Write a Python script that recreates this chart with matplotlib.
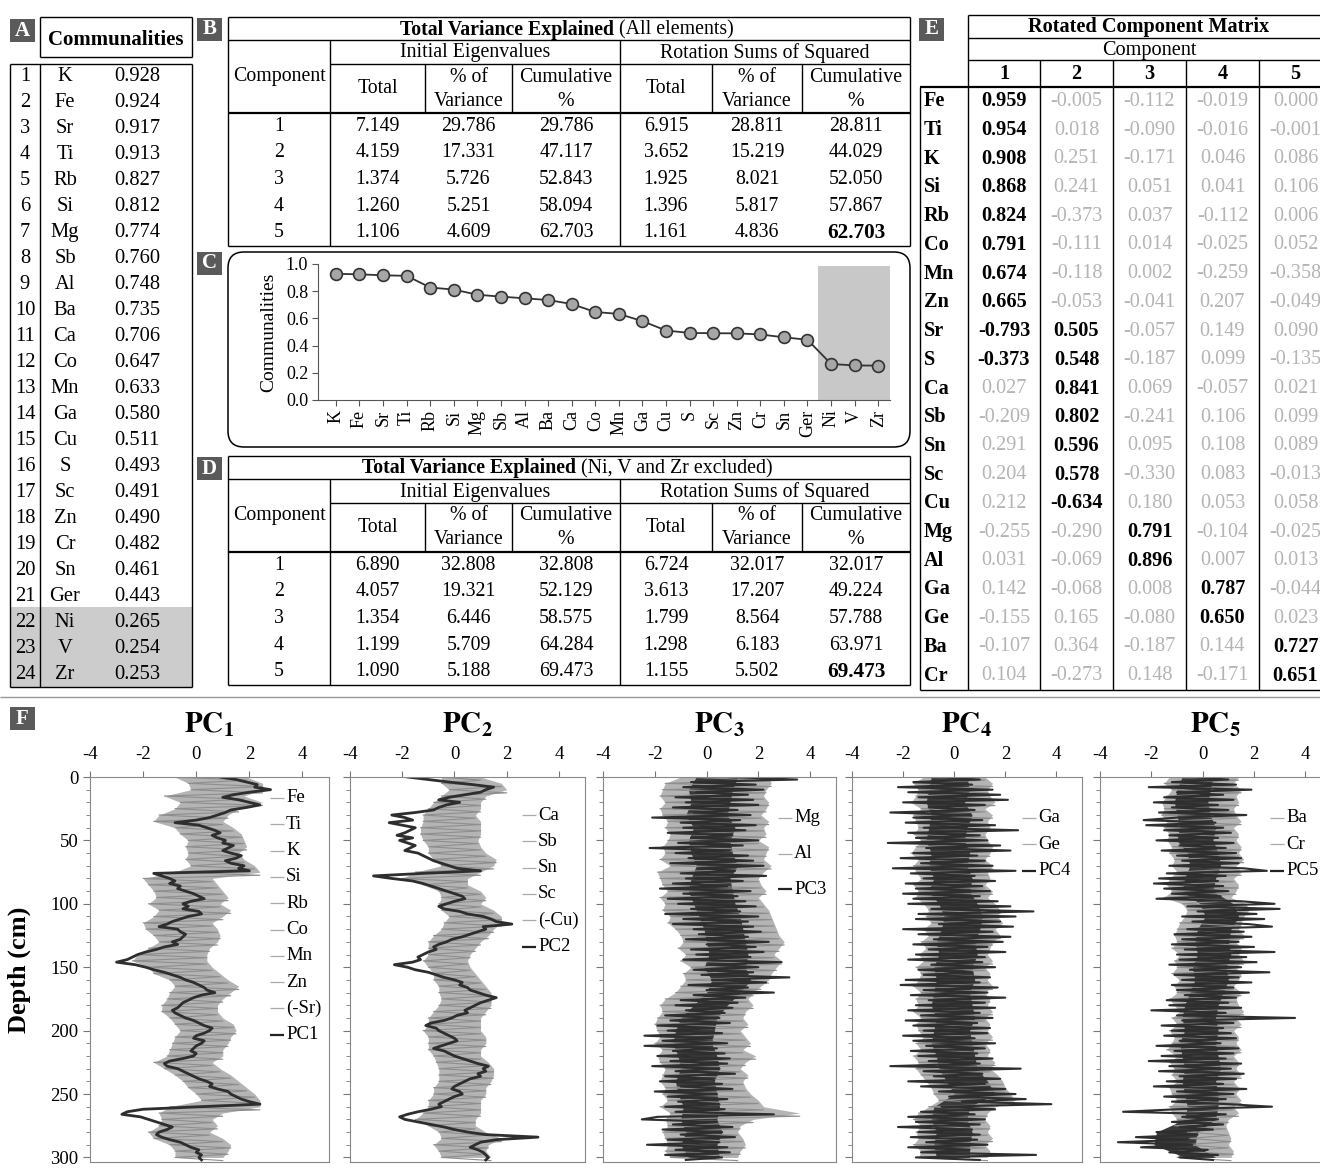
import numpy as np
import matplotlib
matplotlib.use("Agg")
import matplotlib.pyplot as plt
from matplotlib.patches import Rectangle, FancyBboxPatch

plt.rcParams['font.family'] = ['Liberation Serif', 'DejaVu Serif']
plt.rcParams['mathtext.fontset'] = 'stix'
plt.rcParams['axes.unicode_minus'] = False

W, H = 1320, 1172

# ---------------- data ----------------
comm_elements = ['K', 'Fe', 'Sr', 'Ti', 'Rb', 'Si', 'Mg', 'Sb', 'Al', 'Ba', 'Ca', 'Co',
                 'Mn', 'Ga', 'Cu', 'S', 'Sc', 'Zn', 'Cr', 'Sn', 'Ger', 'Ni', 'V', 'Zr']
comm_values = [0.928, 0.924, 0.917, 0.913, 0.827, 0.812, 0.774, 0.760, 0.748, 0.735, 0.706, 0.647,
               0.633, 0.580, 0.511, 0.493, 0.491, 0.490, 0.482, 0.461, 0.443, 0.265, 0.254, 0.253]

components = [1, 2, 3, 4, 5]
b_init_total = ['7.149', '4.159', '1.374', '1.260', '1.106']
b_init_pct = ['29.786', '17.331', '5.726', '5.251', '4.609']
b_init_cum = ['29.786', '47.117', '52.843', '58.094', '62.703']
b_rot_total = ['6.915', '3.652', '1.925', '1.396', '1.161']
b_rot_pct = ['28.811', '15.219', '8.021', '5.817', '4.836']
b_rot_cum = ['28.811', '44.029', '52.050', '57.867', '62.703']

d_init_total = ['6.890', '4.057', '1.354', '1.199', '1.090']
d_init_pct = ['32.808', '19.321', '6.446', '5.709', '5.188']
d_init_cum = ['32.808', '52.129', '58.575', '64.284', '69.473']
d_rot_total = ['6.724', '3.613', '1.799', '1.298', '1.155']
d_rot_pct = ['32.017', '17.207', '8.564', '6.183', '5.502']
d_rot_cum = ['32.017', '49.224', '57.788', '63.971', '69.473']

rot_elements = ['Fe', 'Ti', 'K', 'Si', 'Rb', 'Co', 'Mn', 'Zn', 'Sr', 'S', 'Ca', 'Sb', 'Sn',
                'Sc', 'Cu', 'Mg', 'Al', 'Ga', 'Ge', 'Ba', 'Cr']
rot_matrix = [
    [0.959, -0.005, -0.112, -0.019, 0.000],
    [0.954, 0.018, -0.090, -0.016, -0.001],
    [0.908, 0.251, -0.171, 0.046, 0.086],
    [0.868, 0.241, 0.051, 0.041, 0.106],
    [0.824, -0.373, 0.037, -0.112, 0.006],
    [0.791, -0.111, 0.014, -0.025, 0.052],
    [0.674, -0.118, 0.002, -0.259, -0.358],
    [0.665, -0.053, -0.041, 0.207, -0.049],
    [-0.793, 0.505, -0.057, 0.149, 0.090],
    [-0.373, 0.548, -0.187, 0.099, -0.135],
    [0.027, 0.841, 0.069, -0.057, 0.021],
    [-0.209, 0.802, -0.241, 0.106, 0.099],
    [0.291, 0.596, 0.095, 0.108, 0.089],
    [0.204, 0.578, -0.330, 0.083, -0.013],
    [0.212, -0.634, 0.180, 0.053, 0.058],
    [-0.255, -0.290, 0.791, -0.104, -0.025],
    [0.031, -0.069, 0.896, 0.007, 0.013],
    [0.142, -0.068, 0.008, 0.787, -0.044],
    [-0.155, 0.165, -0.080, 0.650, 0.023],
    [-0.107, 0.364, -0.187, 0.144, 0.727],
    [0.104, -0.273, 0.148, -0.171, 0.651],
]
# component each element is assigned to (bold cells)
rot_bold = [[0], [0], [0], [0], [0], [0], [0], [0], [0, 1], [0, 1], [1], [1], [1], [1], [1],
            [2], [2], [3], [3], [4], [4]]

# depth profiles: PC scores every 2 cm, element band (low/high) every 5 cm,
# dense core of the noisy PC scores every 10 cm
depth_pc = np.arange(0, 304, 2)
depth_band = np.arange(0, 305, 5)
depth_core = np.arange(0, 301, 10)

pc1 = [0.9, 1.5, 1.9, 2.3, 2.2, 2.8, 2.0, 1.4, 1.0, 1.6,
       2.0, 2.4, 1.9, 1.3, 1.1, 0.8, 0.5, 0.0, -0.8, 0.1,
       0.4, 0.7, 0.9, 0.6, 0.8, 1.1, 1.0, 1.4, 1.2, 1.0,
       1.3, 1.7, 1.5, 1.1, 1.3, 1.8, 1.6, 2.0, -1.6, -1.3,
       -1.0, -0.8, -1.0, -0.6, -0.7, -0.4, -0.1, 0.1, 0.3, -0.2,
       -0.5, -0.3, -0.5, 0.1, 0.2, -0.3, -0.6, -0.9, -1.1, -1.4,
       -0.7, -0.6, -0.4, -0.5, -0.6, -0.9, -0.7, -1.2, -1.5, -1.9,
       -2.2, -2.4, -2.6, -3.0, -2.3, -1.9, -1.6, -1.2, -0.9, -0.6,
       -0.4, -0.1, 0.1, 0.3, 0.4, 0.7, 0.2, -0.1, -0.3, -0.5,
       -0.6, -0.7, -0.9, -0.8, -0.6, -0.4, -0.1, 0.1, 0.3, 0.6,
       0.5, 0.3, 0.0, -0.1, 0.3, 0.2, 0.0, -0.1, -0.2, 0.0,
       -0.1, -0.5, -1.0, -1.2, -1.1, -0.7, -0.5, -0.3, -0.1, 0.1,
       0.4, 0.6, 0.5, 0.8, 1.2, 1.3, 1.5, 1.7, 2.0, 2.4,
       0.2, -2.0, -2.6, -2.8, -2.1, -1.8, -1.5, -1.2, -0.9, -1.1,
       -1.4, -1.5, -1.3, -1.0, -0.6, -0.4, -0.2, 0.1, 0.0, 0.2,
       0.1, 0.2]
pc1_lo = [-0.8, -0.3, -0.2, -1.2, -0.6, -0.8, -1.4, -1.6, -0.8, -0.6, -0.3, -0.4, -0.3, -0.4, -0.2,
          -0.8, -2.0, -1.8, -1.6, -1.5, -1.8, -1.4, -1.6, -2.0, -1.9, -1.6, -1.4, -1.8, -2.2, -2.4,
          -1.8, -1.6, -1.0, -0.8, -1.0, -1.1, -1.3, -1.3, -1.0, -0.8, -0.6, -0.8, -0.9, -1.0, -1.1,
          -1.6, -1.2, -0.8, -0.5, -0.3, 0.0, 0.2, -1.0, -1.4, -1.3, -1.4, -1.8, -1.6, -1.0, -0.8, -0.8]
pc1_hi = [1.9, 2.5, 2.5, 1.8, 2.5, 1.6, 1.2, 1.0, 1.4, 1.7, 1.8, 1.9, 1.6, 1.8, 2.2,
          2.4, 0.6, 0.8, 1.0, 1.2, 0.9, 1.3, 1.0, 0.6, 0.8, 0.9, 0.8, 0.5, 0.4, 0.4,
          0.6, 0.9, 1.2, 1.6, 1.3, 1.0, 0.8, 0.8, 1.0, 1.4, 1.5, 1.3, 1.2, 1.0, 1.0,
          0.6, 0.9, 1.3, 1.6, 1.9, 2.2, 2.4, 2.4, 1.0, 0.6, 0.8, 0.5, 1.0, 1.3, 1.2, 1.0]

pc2 = [-1.8, -1.0, -0.2, 0.7, 1.5, 1.2, 1.0, 0.4, -0.2, -0.6,
       0.2, -0.3, -0.6, -0.8, -1.5, -2.4, -1.9, -1.6, -2.5, -2.0,
       -1.5, -1.7, -1.9, -2.2, -1.6, -2.1, -1.8, -1.5, -1.7, -1.9,
       -1.4, -1.2, -1.0, -0.8, -0.5, -0.2, 0.1, 1.0, -1.2, -3.1,
       -2.4, -1.6, -1.2, -0.9, -0.6, -0.3, 0.0, 0.3, 0.4, 0.0,
       -0.3, -0.6, -0.4, 0.2, 0.5, 1.1, 1.4, 1.6, 2.2, 1.1,
       1.2, 0.9, 0.6, 0.3, -0.1, -0.3, -0.6, -0.8, -0.7, -1.0,
       -1.2, -1.4, -1.3, -1.6, -2.3, -1.8, -1.5, -1.0, -0.7, -0.4,
       0.0, 0.3, 0.2, 0.5, 0.6, 0.9, 1.2, 1.6, 1.3, 1.0,
       0.8, 0.6, 0.4, 0.5, 0.1, -0.1, -0.4, -0.9, -1.1, -0.7,
       -0.6, -0.4, -0.2, 0.0, 0.1, -0.2, -0.5, -0.8, -0.4, -0.2,
       0.0, 0.3, 0.6, 0.9, 1.3, 1.1, 1.2, 0.9, 1.0, 0.6,
       0.4, 0.2, 0.0, -0.1, 0.2, 0.3, 0.0, -0.2, -0.4, -0.6,
       -0.5, -0.9, -1.4, -1.8, -2.1, -1.9, -1.4, -0.9, -0.4, 0.0,
       0.5, 1.2, 3.2, 1.6, 1.0, 0.8, 0.6, 0.9, 1.1, 1.2,
       1.3, 1.2]
pc2_lo = [-0.5, -0.5, -0.2, -0.5, -0.8, -1.0, -1.2, -1.2, -1.3, -1.3, -1.2, -1.0, -1.0, -0.8, -0.5,
          -1.5, -2.0, -1.2, -0.6, -0.5, -0.6, -0.5, -0.2, -0.4, -0.5, -0.8, -1.0, -1.0, -1.0, -1.2,
          -1.0, -0.8, -0.8, -0.6, -0.6, -0.5, -0.6, -0.8, -1.0, -1.0, -1.2, -1.0, -1.0, -1.0, -0.8,
          -0.7, -0.6, -0.6, -0.6, -0.8, -0.8, -1.0, -1.0, -1.2, -1.5, -1.0, -0.6, -0.5, -0.8, -0.6, -0.5]
pc2_hi = [1.0, 1.8, 2.0, 1.2, 1.0, 1.0, 0.8, 1.0, 1.0, 1.0, 0.9, 1.0, 1.2, 1.6, 1.5,
          1.0, 0.5, 0.5, 1.0, 1.2, 1.0, 1.5, 1.8, 1.8, 1.5, 1.3, 1.0, 0.8, 0.6, 0.5,
          0.6, 0.8, 1.0, 1.2, 1.4, 1.4, 1.4, 1.2, 1.0, 1.0, 1.0, 1.2, 1.2, 1.0, 1.0,
          1.3, 1.5, 1.5, 1.4, 1.2, 1.2, 1.0, 1.0, 1.0, 0.8, 0.8, 1.2, 1.8, 1.3, 1.2, 1.4]

pc3 = [0.8, 3.5, -0.6, 1.9, -0.9, 2.2, -0.4, 1.6, -1.2, 1.8,
       -0.8, 2.0, -1.3, 1.2, -0.5, 1.7, -2.1, 1.3, -1.0, 1.9,
       -0.9, 1.5, -1.5, 1.0, -0.6, 2.0, -1.1, 1.4, -2.2, 0.9,
       -1.2, 1.6, -0.7, 1.8, -1.4, 2.2, -0.3, 1.1, -1.0, 2.3,
       -0.8, 1.4, -1.3, 0.8, -1.8, 1.7, -0.9, 1.2, -1.5, 1.5,
       -1.1, 1.9, -0.6, 1.3, -1.6, 2.0, -0.9, 1.6, -1.3, 1.8,
       -0.5, 2.1, -0.3, 1.6, -0.8, 2.4, 0.0, 1.9, -0.6, 2.2,
       -0.4, 1.7, -0.9, 2.9, 0.1, 2.0, -0.5, 1.8, -0.2, 3.2,
       0.2, 2.3, -0.7, 1.6, 0.0, 2.6, -0.5, 1.5, -1.0, 1.2,
       -1.2, 1.0, -0.8, 0.7, -1.6, 0.5, -1.4, 0.9, -1.9, 0.3,
       -1.5, 0.6, -2.4, 0.2, -1.7, 0.8, -2.4, 0.4, -1.3, 0.7,
       -1.9, 0.9, -1.4, 0.8, -2.1, 0.5, -1.2, 1.1, -1.6, 0.3,
       -1.8, 0.6, -1.0, 1.0, -2.0, 0.4, -1.5, 0.8, -1.1, 0.5,
       -1.6, 0.7, -1.2, 2.6, -1.9, -2.5, 0.4, -1.3, 1.0, -1.7,
       0.6, -1.0, 1.1, -1.5, 0.5, -2.3, 0.8, -1.2, 0.9, -1.6,
       0.6, -0.8]
pc3_lo = [-1.0, -1.6, -1.7, -1.8, -1.6, -1.8, -1.7, -1.5, -1.6, -1.4, -1.5, -1.7, -1.6, -1.8, -1.4,
          -1.9, -1.8, -1.7, -1.5, -1.8, -1.6, -1.7, -1.4, -1.5, -1.2, -1.0, -0.9, -1.1, -0.8, -1.0,
          -0.6, -0.9, -0.8, -1.0, -1.2, -1.6, -1.8, -1.7, -1.9, -2.0, -1.9, -1.8, -2.0, -1.7, -1.9,
          -1.8, -1.6, -1.7, -1.8, -1.6, -1.7, -1.5, -1.8, -1.4, -1.6, -1.5, -1.7, -1.6, -1.5, -1.6, -1.4]
pc3_hi = [2.4, 2.5, 2.3, 2.2, 2.4, 2.3, 2.1, 2.4, 2.2, 2.3, 2.0, 2.4, 2.3, 2.2, 2.5,
          2.2, 2.0, 2.1, 2.3, 2.0, 2.2, 2.4, 2.5, 2.6, 2.7, 2.8, 3.0, 2.8, 2.6, 2.9,
          2.7, 2.5, 2.4, 2.1, 1.8, 1.6, 1.8, 1.5, 1.4, 1.6, 1.3, 1.5, 1.7, 1.4, 1.9,
          1.5, 1.3, 1.6, 1.4, 1.5, 1.7, 2.0, 2.2, 3.6, 1.8, 1.3, 1.2, 1.4, 1.5, 1.3, 1.2]
pc3_core_lo = [-0.4, -0.7, -0.6, -0.8, -0.5, -0.7, -0.6, -0.4, -0.6, -0.7, -0.5, -0.3, -0.1, 0.0, 0.1,
               -0.1, 0.2, 0.0, -0.5, -1.0, -1.2, -1.3, -1.1, -1.0, -1.2, -1.1, -0.9, -1.0, -0.8, -1.0, -0.7]
pc3_core_hi = [1.2, 1.0, 0.9, 0.8, 1.1, 0.9, 1.0, 1.2, 0.9, 1.0, 1.1, 1.3, 1.4, 1.5, 1.6,
               1.5, 1.7, 1.3, 0.8, 0.4, 0.3, 0.2, 0.4, 0.5, 0.3, 0.4, 0.5, 0.4, 0.6, 0.4, 0.5]

pc4 = [-0.8, 1.0, -1.6, 0.7, -2.2, 1.5, -1.8, 1.8, -1.4, 2.1,
       -2.0, 1.2, -1.0, 0.8, -2.5, 0.6, -1.6, 1.1, -1.9, 1.6,
       -1.2, 2.5, -1.8, 1.0, -1.5, 1.3, -2.6, 1.8, -1.1, 2.2,
       -1.6, 0.9, -2.1, 1.2, -1.3, 1.5, -2.4, 2.4, -1.7, 0.8,
       -1.2, 1.6, -1.9, 1.1, -1.5, 1.4, -2.0, 1.0, -1.6, 1.7,
       -1.8, 2.2, -0.9, 3.1, -1.4, 2.4, -1.5, 1.8, -0.6, 2.3,
       -2.0, 1.5, -1.4, 2.2, -0.8, 1.9, -1.6, 1.3, -1.0, 2.0,
       -1.5, 1.2, -1.8, 1.1, -0.9, 1.6, -1.4, 0.7, -1.2, 1.4,
       -1.9, 1.0, -2.1, 1.7, -1.2, 1.3, -1.7, 2.0, -1.0, 1.2,
       -1.5, 1.6, -1.8, 1.0, -1.3, 1.5, -1.9, 0.9, -1.6, 1.4,
       -1.2, 1.3, -2.0, 0.8, -1.6, 1.6, -1.1, 1.2, -1.7, 0.9,
       -1.4, 1.5, -1.0, 1.0, -2.5, 2.6, -1.2, 1.1, -0.8, 1.8,
       -1.8, 1.2, -1.3, 2.0, -0.6, 2.4, -0.2, 2.8, 0.3, 3.8,
       -0.5, 1.6, -1.3, 0.8, -1.8, 1.2, -1.5, 1.0, -2.2, 0.7,
       -1.4, 1.0, -1.7, 0.9, -1.1, 1.3, -1.8, 0.6, -1.3, 3.2,
       -1.5, 1.0]
pc4_lo = [-1.2, -1.6, -1.4, -1.5, -1.7, -1.3, -1.6, -1.5, -1.4, -1.6, -1.3, -1.5, -1.7, -1.4, -1.6,
          -1.5, -1.3, -1.6, -1.4, -1.5, -1.2, -1.0, -1.1, -0.9, -1.2, -1.0, -1.3, -1.1, -1.4, -1.2,
          -1.5, -1.3, -1.4, -1.6, -1.3, -1.5, -1.4, -1.6, -1.3, -1.5, -1.4, -1.2, -1.5, -1.3, -1.6,
          -1.4, -1.5, -1.3, -1.1, -0.9, -0.8, -0.6, -1.0, -1.4, -1.6, -1.3, -1.5, -1.4, -1.6, -1.3, -1.4]
pc4_hi = [1.2, 1.5, 1.3, 1.4, 1.6, 1.2, 1.5, 1.3, 1.4, 1.2, 1.3, 1.5, 1.4, 1.2, 1.5,
          1.3, 1.4, 1.2, 1.5, 1.3, 1.6, 1.8, 1.7, 1.9, 1.6, 1.8, 1.5, 1.4, 1.3, 1.5,
          1.2, 1.4, 1.3, 1.5, 1.2, 1.4, 1.3, 1.5, 1.2, 1.4, 1.3, 1.5, 1.2, 1.4, 1.3,
          1.6, 1.4, 1.7, 1.9, 2.0, 2.2, 2.4, 1.6, 1.3, 1.2, 1.4, 1.3, 1.5, 1.2, 1.4, 1.3]
pc4_core_lo = [-0.9, -1.0, -1.1, -0.9, -1.0, -1.1, -0.9, -1.0, -0.8, -1.0, -0.6, -0.4, -0.5, -0.7, -0.6,
               -0.8, -0.7, -0.8, -0.9, -0.7, -0.8, -0.9, -0.7, -0.6, -0.3, 0.0, -0.8, -0.9, -0.7, -0.8, -0.7]
pc4_core_hi = [0.5, 0.6, 0.4, 0.7, 0.5, 0.4, 0.6, 0.5, 0.7, 0.6, 0.9, 1.1, 1.0, 0.8, 0.9,
               0.7, 0.8, 0.6, 0.7, 0.8, 0.6, 0.7, 0.8, 0.9, 1.3, 1.6, 0.6, 0.5, 0.7, 0.6, 0.6]

pc5 = [-0.6, 1.0, -1.2, 1.3, -2.1, 1.9, -1.0, 0.8, -1.5, 1.2,
       -1.9, 0.6, -1.2, 1.0, -1.7, 1.7, -1.0, -2.3, 0.5, -2.2,
       0.8, -1.5, 1.1, -1.3, 0.6, -1.8, 1.2, -0.9, 0.9, -1.6,
       1.3, -1.0, 1.5, -0.8, 1.4, -1.3, 1.6, 2.5, -1.4, 0.9,
       -1.7, 0.6, -1.9, 0.8, -1.5, 1.0, -1.2, 0.7, -1.8, 1.5,
       2.8, -0.6, 3.0, -0.2, 2.1, -0.8, 2.4, -0.4, 1.8, 2.7,
       -0.6, 1.6, -1.1, 1.9, -0.8, 1.4, -1.2, 2.0, -0.7, 2.8,
       -1.0, 1.7, -0.9, 2.1, -1.3, 1.5, -0.5, 2.6, -1.1, 1.4,
       -0.8, 1.9, -1.2, 1.2, -1.0, 1.8, -0.7, 1.3, -1.4, 1.0,
       -1.3, 1.5, -2.0, 0.9, -1.0, 3.6, -0.8, 1.2, -1.6, 0.8,
       -1.2, 1.1, -1.5, 1.3, -0.9, 0.7, -1.8, 1.4, -1.1, 1.2,
       -1.6, 0.9, -2.1, 1.5, -1.3, 1.1, -1.7, 1.6, -0.9, 1.3,
       -1.4, 0.8, -1.9, 1.7, -1.0, 1.2, -1.5, 0.9, -1.2, 1.0,
       2.7, -1.0, -3.1, 0.9, -0.8, 0.6, -1.2, 0.8, -0.9, 0.4,
       -1.8, -0.2, -2.6, -0.6, -3.3, -0.4, -2.4, 0.2, -1.3, 0.6,
       -0.9, 0.4]
pc5_lo = [-1.3, -1.5, -1.2, -1.4, -1.6, -1.5, -1.6, -1.4, -1.5, -1.3, -1.4, -1.2, -1.3, -1.1, -1.2,
          -1.0, -1.3, -1.4, -1.2, -1.5, -0.8, -0.6, -0.7, -0.9, -1.0, -1.1, -1.0, -1.2, -0.9, -1.1,
          -1.0, -1.2, -0.9, -1.1, -1.0, -1.3, -1.1, -0.9, -1.2, -1.0, -1.3, -1.1, -1.2, -1.4, -1.0,
          -1.3, -1.1, -1.2, -1.0, -1.3, -1.2, -1.0, -1.3, -1.2, -1.0, -1.1, -0.6, -0.5, -0.7, -0.9, -1.0]
pc5_hi = [1.4, 1.2, 1.5, 1.3, 1.4, 1.2, 1.3, 1.5, 1.2, 1.4, 1.3, 1.5, 1.4, 1.6, 1.3,
          1.5, 1.2, 1.4, 1.3, 1.1, 1.7, 1.8, 1.6, 1.5, 1.4, 1.6, 1.3, 1.5, 1.4, 1.6,
          1.3, 1.5, 1.4, 1.2, 1.5, 1.3, 1.4, 1.6, 1.3, 1.5, 1.2, 1.4, 1.3, 1.5, 1.2,
          1.4, 1.3, 1.5, 1.2, 1.4, 1.3, 1.5, 1.2, 1.4, 1.0, 0.9, 1.0, 1.1, 1.0, 1.2, 1.1]
pc5_core_lo = [-0.8, -1.0, -1.1, -1.0, -0.9, -1.0, -0.6, -0.5, -0.7, -0.8, -0.1, 0.1, -0.2, -0.3, -0.2,
               -0.4, -0.3, -0.5, -0.7, -0.8, -0.7, -0.9, -0.8, -0.7, -0.8, -0.7, -0.6, -0.7, -1.8, -1.9, -0.7]
pc5_core_hi = [0.4, 0.3, 0.2, 0.3, 0.5, 0.4, 0.6, 0.7, 0.5, 0.4, 1.2, 1.4, 1.1, 1.0, 1.1,
               0.9, 1.0, 0.8, 0.6, 0.5, 0.6, 0.5, 0.6, 0.7, 0.5, 0.6, 0.6, 0.5, -0.2, -0.3, 0.5]

pc_series = [pc1, pc2, pc3, pc4, pc5]
pc_lows = [pc1_lo, pc2_lo, pc3_lo, pc4_lo, pc5_lo]
pc_highs = [pc1_hi, pc2_hi, pc3_hi, pc4_hi, pc5_hi]
pc_cores = [None, None, (pc3_core_lo, pc3_core_hi), (pc4_core_lo, pc4_core_hi),
            (pc5_core_lo, pc5_core_hi)]
pc_legends = [['Fe', 'Ti', 'K', 'Si', 'Rb', 'Co', 'Mn', 'Zn', '(-Sr)', 'PC1'],
              ['Ca', 'Sb', 'Sn', 'Sc', '(-Cu)', 'PC2'],
              ['Mg', 'Al', 'PC3'],
              ['Ga', 'Ge', 'PC4'],
              ['Ba', 'Cr', 'PC5']]

# ---------------- figure ----------------
fig = plt.figure(figsize=(W / 100, H / 100), dpi=100)
fig.patch.set_facecolor('white')


def rect_px(x0, y0, x1, y1):
    return [x0 / W, 1 - y1 / H, (x1 - x0) / W, (y1 - y0) / H]


bg = fig.add_axes([0, 0, 1, 1], zorder=10)
bg.set_xlim(0, W)
bg.set_ylim(H, 0)
bg.axis('off')

FS = 14.3
GRAYTXT = '#b4b4b4'


def hl(x0, x1, y, lw=1.0, c='k'):
    bg.plot([x0, x1], [y, y], color=c, lw=lw, solid_capstyle='butt')


def vl(x, y0, y1, lw=1.0, c='k'):
    bg.plot([x, x], [y0, y1], color=c, lw=lw, solid_capstyle='butt')


def tx(x, y, s, ha='center', size=FS, **kw):
    bg.text(x, y, s, ha=ha, va='center', fontsize=size, **kw)


def panel_label(x, y, letter):
    bg.add_patch(Rectangle((x, y), 25, 23, facecolor='#5a5a5a', edgecolor='none'))
    tx(x + 12.5, y + 11.5, letter, size=15, color='white', fontweight='bold')


# ---------- A: communalities ----------
panel_label(10, 19, 'A')
bg.add_patch(Rectangle((10, 607), 182, 80, facecolor='#cccccc', edgecolor='none', zorder=0))
hl(40, 192, 17); hl(40, 192, 57); vl(40, 17, 57); vl(192, 17, 57)
tx(116, 40, 'Communalities', fontweight='bold', size=15)
hl(10, 192, 64); hl(10, 192, 687); vl(10, 64, 687); vl(192, 64, 687); vl(40, 64, 687)
row_h = (687 - 64) / 24
for i, (el, v) in enumerate(zip(comm_elements, comm_values)):
    yc = 64 + row_h * (i + 0.5)
    tx(25, yc, str(i + 1), size=14.8)
    tx(65, yc, el, size=14.8)
    tx(137, yc, f'{v:.3f}', size=14.8)


# ---------- B / D: total variance tables ----------
def variance_table(top, title_bold, title_rest, split_x, cols):
    xs = [228, 330, 425, 512, 620, 712, 802, 910]
    y_title, y_r2, y_r3, y_body, y_end = top, top + 23, top + 47, top + 96, top + 229
    hl(228, 910, y_title); hl(228, 910, y_r2); hl(330, 910, y_r3)
    hl(228, 910, y_body, lw=1.6); hl(228, 910, y_end)
    vl(228, y_title, y_end); vl(910, y_title, y_end)
    vl(330, y_r2, y_end); vl(620, y_r2, y_end)
    for x in [425, 512, 712, 802]:
        vl(x, y_r3, y_body)
    bg.text(split_x, (y_title + y_r2) / 2 + 1, title_bold + ' ', ha='right', va='center',
            fontsize=FS, fontweight='bold')
    bg.text(split_x, (y_title + y_r2) / 2 + 1, title_rest, ha='left', va='center', fontsize=FS)
    tx(475, (y_r2 + y_r3) / 2 + 1, 'Initial Eigenvalues')
    tx(765, (y_r2 + y_r3) / 2 + 1, 'Rotation Sums of Squared')
    tx(279, (y_r2 + y_body) / 2, 'Component')
    for c0, c1, c2, c3 in [(330, 425, 512, 620), (620, 712, 802, 910)]:
        tx((c0 + c1) / 2, (y_r3 + y_body) / 2, 'Total')
        tx((c1 + c2) / 2, y_r3 + 13, '% of')
        tx((c1 + c2) / 2, y_r3 + 37, 'Variance')
        tx((c2 + c3) / 2, y_r3 + 13, 'Cumulative')
        tx((c2 + c3) / 2, y_r3 + 37, '%')
    rh = (y_end - y_body) / 5
    centers = [(xs[j] + xs[j + 1]) / 2 for j in range(7)]
    for i in range(5):
        yc = y_body + rh * (i + 0.5)
        tx(centers[0], yc, str(components[i]))
        for j, col in enumerate(cols):
            if i == 4 and j == 5:
                tx(centers[j + 1], yc, col[i], fontweight='bold', size=FS + 1)
            else:
                tx(centers[j + 1], yc, col[i])


panel_label(197, 18, 'B')
variance_table(17, 'Total Variance Explained', '(All elements)', 619,
               [b_init_total, b_init_pct, b_init_cum, b_rot_total, b_rot_pct, b_rot_cum])
panel_label(197, 457, 'D')
variance_table(456, 'Total Variance Explained', '(Ni, V and Zr excluded)', 581,
               [d_init_total, d_init_pct, d_init_cum, d_rot_total, d_rot_pct, d_rot_cum])

# ---------- C: communalities line ----------
panel_label(197, 252, 'C')
bg.add_patch(FancyBboxPatch((228, 252), 682, 195, boxstyle='round,pad=0,rounding_size=16',
                            facecolor='none', edgecolor='k', lw=1.1))
axc = fig.add_axes(rect_px(318, 264, 890, 400), zorder=5)
axc.patch.set_alpha(0)
xpos = np.arange(len(comm_values))
axc.add_patch(Rectangle((20.45, 0), 3.05, 0.985, facecolor='#c8c8c8', edgecolor='none', zorder=0))
axc.plot(xpos, comm_values, '-o', color='#333333', lw=1.3, ms=8.5, mfc='#a6a6a6', mec='#333333',
         mew=1.2, zorder=3)
axc.set_xlim(-0.76, 23.5)
axc.set_ylim(0, 1.0)
axc.set_yticks(np.arange(0, 1.01, 0.2))
axc.set_yticklabels([f'{v:.1f}' for v in np.arange(0, 1.01, 0.2)], fontsize=13)
axc.set_xticks(xpos)
axc.set_xticklabels(comm_elements, rotation=90, fontsize=13)
axc.set_ylabel('Communalities', fontsize=14, labelpad=6)
for s in ['top', 'right']:
    axc.spines[s].set_visible(False)
for s in ['left', 'bottom']:
    axc.spines[s].set_color('#555555')
axc.tick_params(length=4, color='#555555', pad=3)

# ---------- E: rotated component matrix ----------
panel_label(919, 18, 'E')
ex = [920, 968, 1040, 1113, 1186, 1259, 1332]
hl(968, 1320, 15); hl(968, 1320, 38); hl(968, 1320, 60)
hl(920, 1320, 87, lw=1.6); hl(920, 1320, 690)
vl(968, 15, 690); vl(920, 87, 690)
for x in ex[2:6]:
    vl(x, 60, 690)
tx(1149, 27, 'Rotated Component Matrix', fontweight='bold', size=14.6)
tx(1149, 50, 'Component', size=14.6)
for j in range(5):
    tx((ex[j + 1] + ex[j + 2]) / 2, 74, str(j + 1), fontweight='bold', size=14.6)
erh = (690 - 87) / len(rot_elements)
for i, el in enumerate(rot_elements):
    yc = 87 + erh * (i + 0.5)
    tx(924, yc, el, ha='left', fontweight='bold', size=14.6)
    for j in range(5):
        s = f'{rot_matrix[i][j]:.3f}'
        if j in rot_bold[i]:
            tx((ex[j + 1] + ex[j + 2]) / 2, yc, s, fontweight='bold', size=14.6)
        else:
            tx((ex[j + 1] + ex[j + 2]) / 2, yc, s, color=GRAYTXT, size=14.6)

# ---------- F: depth profiles ----------
hl(0, W, 697, lw=1.0, c='#999999')
panel_label(10, 707, 'F')
ax_px = [(90, 329), (350, 585), (603, 836), (852, 1082), (1100, 1331)]
leg_px = [(270, 798, 26.3), (522, 815, 26.3), (778, 818, 35.5), (1022, 818, 26.3),
          (1270, 818, 26.3)]
for k in range(5):
    x0, x1 = ax_px[k]
    ax = fig.add_axes(rect_px(x0, 777, x1, 1162), zorder=2)
    lo, hi = np.array(pc_lows[k]), np.array(pc_highs[k])
    ax.fill_betweenx(depth_band, lo, hi, color='#b4b4b4', lw=0)
    gray_vals = np.column_stack([lo, hi]).ravel()
    gray_depth = np.arange(len(gray_vals)) * 2.5
    ax.plot(gray_vals, gray_depth, color='#8e8e8e', lw=0.8)
    if pc_cores[k] is not None:
        ax.fill_betweenx(depth_core, pc_cores[k][0], pc_cores[k][1], color='#3a3a3a', lw=0)
        ax.plot(pc_series[k], depth_pc, color='#2e2e2e', lw=1.5)
    else:
        ax.plot(pc_series[k], depth_pc, color='#2e2e2e', lw=2.0)
    ax.set_xlim(-4, 5)
    ax.set_ylim(303.6, 0)
    ax.xaxis.tick_top()
    ax.set_xticks([-4, -2, 0, 2, 4])
    ax.set_yticks(np.arange(0, 301, 50))
    ax.set_yticks(np.arange(0, 301, 10), minor=True)
    ax.tick_params(axis='both', which='both', direction='out', color='#777777', labelsize=13.5)
    ax.tick_params(axis='x', length=4, pad=6)
    ax.tick_params(axis='y', which='major', length=5)
    ax.tick_params(axis='y', which='minor', length=3)
    if k > 0:
        ax.set_yticklabels([])
    else:
        ax.set_ylabel('Depth (cm)', fontsize=19, fontweight='bold', labelpad=14)
    for s in ax.spines.values():
        s.set_color('#888888')
    ax.set_title(r'$\mathbf{PC_{%d}}$' % (k + 1), fontsize=21, pad=32)
    lx, ly, step = leg_px[k]
    names = pc_legends[k]
    for i, name in enumerate(names):
        yy = ly + step * i
        dark = (i == len(names) - 1)
        hl(lx, lx + 14, yy, lw=1.6 if dark else 0.9, c='#222222' if dark else '#aaaaaa')
        tx(lx + 16, yy, name, ha='left', size=13.5)

fig.savefig('out.png', dpi=100)
